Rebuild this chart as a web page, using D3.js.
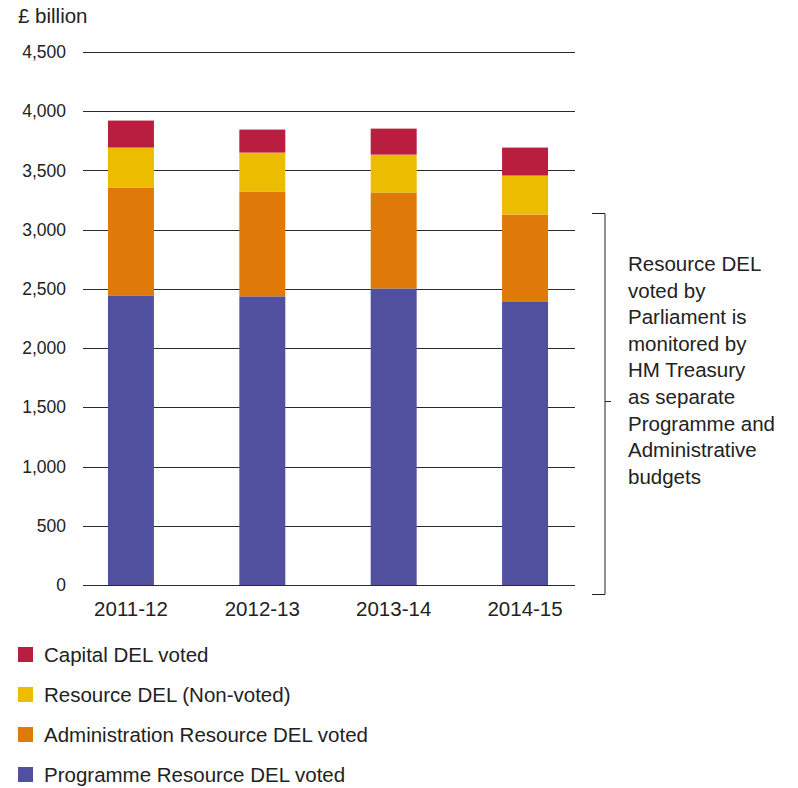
<!DOCTYPE html>
<html>
<head>
<meta charset="utf-8">
<script src="https://cdn.jsdelivr.net/npm/d3@7"></script>
<style>
  body { margin: 0; background: #fff; }
  text { font-family: "Liberation Sans", Arial, sans-serif; fill: #222; }
</style>
</head>
<body>
<div id="chart"></div>
<script>
// data, £ billion
var years = ["2011-12", "2012-13", "2013-14", "2014-15"];
var programmeVoted = [2445, 2437, 2504, 2395];
var adminVoted = [911, 885, 810, 733];
var resourceNonVoted = [337, 329, 320, 329];
var capitalVoted = [228, 194, 219, 236];
var yTicks = [0, 500, 1000, 1500, 2000, 2500, 3000, 3500, 4000, 4500];

var seriesNames = ["Programme Resource DEL voted", "Administration Resource DEL voted",
                   "Resource DEL (Non-voted)", "Capital DEL voted"];
var seriesColors = ["#51509e", "#df7908", "#ecbc00", "#b91d3f"];

var width = 798, height = 788;
var margin = {left: 83, right: 223, top: 52, bottom: 203};

var svg = d3.select("#chart").append("svg")
    .attr("width", width)
    .attr("height", height);

var x = d3.scaleBand()
    .domain(years)
    .range([margin.left, 573])
    .paddingInner(0.65)
    .paddingOuter(0.19);

var y = d3.scaleLinear()
    .domain([0, 4500])
    .range([height - margin.bottom, margin.top]);

// gridlines
svg.append("g")
  .selectAll("line")
  .data(yTicks)
  .join("line")
    .attr("x1", margin.left)
    .attr("x2", width - margin.right)
    .attr("y1", function(d) { return Math.round(y(d)) + 0.5; })
    .attr("y2", function(d) { return Math.round(y(d)) + 0.5; })
    .attr("stroke", "#2a2a2a")
    .attr("stroke-width", 1.2);

// y labels
var fmt = d3.format(",");
svg.append("g")
  .selectAll("text")
  .data(yTicks)
  .join("text")
    .attr("x", 66)
    .attr("y", function(d) { return y(d); })
    .attr("dy", "0.35em")
    .attr("text-anchor", "end")
    .style("font-size", "17.5px")
    .text(function(d) { return fmt(d); });

svg.append("text")
    .attr("x", 18)
    .attr("y", 23)
    .style("font-size", "20.5px")
    .text("£ billion");

// stacked bars
var rows = years.map(function(yr, i) {
  return {year: yr, s0: programmeVoted[i], s1: adminVoted[i], s2: resourceNonVoted[i], s3: capitalVoted[i]};
});
var stack = d3.stack().keys(["s0", "s1", "s2", "s3"]);
var layers = stack(rows);

svg.append("g")
  .selectAll("g")
  .data(layers)
  .join("g")
    .attr("fill", function(d, i) { return seriesColors[i]; })
  .selectAll("rect")
  .data(function(d) { return d; })
  .join("rect")
    .attr("x", function(d) { return x(d.data.year); })
    .attr("width", x.bandwidth())
    .attr("y", function(d) { return y(d[1]); })
    .attr("height", function(d) { return y(d[0]) - y(d[1]); });

// x labels
svg.append("g")
  .selectAll("text")
  .data(years)
  .join("text")
    .attr("x", function(d) { return x(d) + x.bandwidth() / 2; })
    .attr("y", 616)
    .attr("text-anchor", "middle")
    .style("font-size", "20.5px")
    .text(function(d) { return d; });

// bracket + note on the right
var bx = 605;
svg.append("path")
    .attr("d", "M592,213.5H" + bx + "V594.5H592M" + bx + ",401.5H611")
    .attr("fill", "none")
    .attr("stroke", "#222")
    .attr("stroke-width", 1);

var note = ["Resource DEL", "voted by", "Parliament is", "monitored by", "HM Treasury",
            "as separate", "Programme and", "Administrative", "budgets"];
svg.append("text")
    .attr("x", 628)
    .attr("y", 271)
    .style("font-size", "20.5px")
  .selectAll("tspan")
  .data(note)
  .join("tspan")
    .attr("x", 628)
    .attr("dy", function(d, i) { return i === 0 ? 0 : 26.6; })
    .text(function(d) { return d; });

// legend, top to bottom: capital first
var legendOrder = [3, 2, 1, 0];
var legend = svg.append("g")
  .selectAll("g")
  .data(legendOrder)
  .join("g")
    .attr("transform", function(d, i) { return "translate(18," + (655 + i * 40) + ")"; });

legend.append("rect")
    .attr("x", 0)
    .attr("y", -8)
    .attr("width", 15)
    .attr("height", 15)
    .attr("fill", function(d) { return seriesColors[d]; });

legend.append("text")
    .attr("x", 26)
    .attr("y", 0)
    .attr("dy", "0.35em")
    .style("font-size", "20.5px")
    .text(function(d) { return seriesNames[d]; });
</script>
</body>
</html>
